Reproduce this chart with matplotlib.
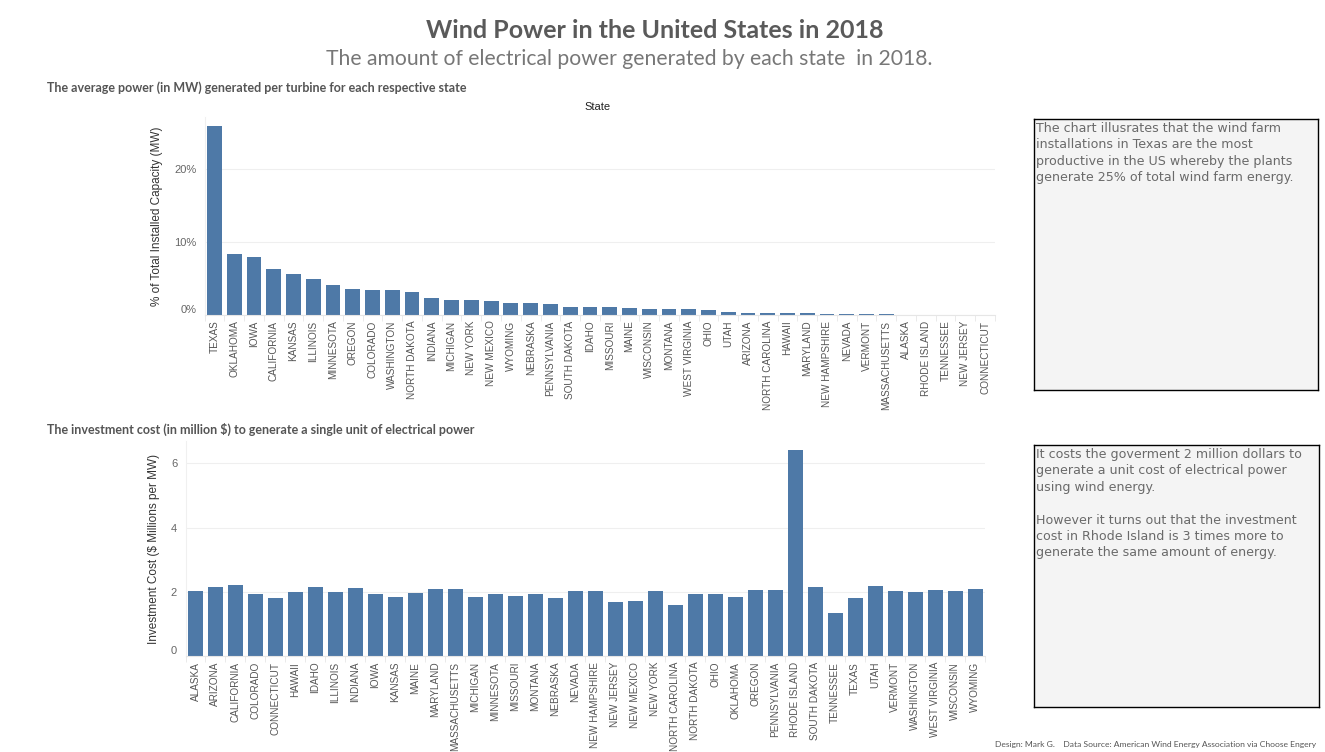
import matplotlib.pyplot as plt
from matplotlib import ticker

# share of total installed capacity (%), sorted as in the dashboard
cap_states = [
    "TEXAS", "OKLAHOMA", "IOWA", "CALIFORNIA", "KANSAS", "ILLINOIS", "MINNESOTA",
    "OREGON", "COLORADO", "WASHINGTON", "NORTH DAKOTA", "INDIANA", "MICHIGAN",
    "NEW YORK", "NEW MEXICO", "WYOMING", "NEBRASKA", "PENNSYLVANIA", "SOUTH DAKOTA",
    "IDAHO", "MISSOURI", "MAINE", "WISCONSIN", "MONTANA", "WEST VIRGINIA", "OHIO",
    "UTAH", "ARIZONA", "NORTH CAROLINA", "HAWAII", "MARYLAND", "NEW HAMPSHIRE",
    "NEVADA", "VERMONT", "MASSACHUSETTS", "ALASKA", "RHODE ISLAND", "TENNESSEE",
    "NEW JERSEY", "CONNECTICUT",
]
cap_share = [
    25.9, 8.3, 8.0, 6.3, 5.6, 4.9, 4.1, 3.5, 3.4, 3.4, 3.2, 2.3, 2.0, 2.0, 1.9,
    1.6, 1.6, 1.5, 1.05, 1.05, 1.05, 0.9, 0.78, 0.78, 0.78, 0.64, 0.37, 0.23,
    0.23, 0.23, 0.21, 0.09, 0.09, 0.08, 0.07, 0.06, 0.01, 0.01, 0.01, 0.0,
]

# investment cost ($ millions per MW), alphabetical
cost_states = [
    "ALASKA", "ARIZONA", "CALIFORNIA", "COLORADO", "CONNECTICUT", "HAWAII", "IDAHO",
    "ILLINOIS", "INDIANA", "IOWA", "KANSAS", "MAINE", "MARYLAND", "MASSACHUSETTS",
    "MICHIGAN", "MINNESOTA", "MISSOURI", "MONTANA", "NEBRASKA", "NEVADA",
    "NEW HAMPSHIRE", "NEW JERSEY", "NEW MEXICO", "NEW YORK", "NORTH CAROLINA",
    "NORTH DAKOTA", "OHIO", "OKLAHOMA", "OREGON", "PENNSYLVANIA", "RHODE ISLAND",
    "SOUTH DAKOTA", "TENNESSEE", "TEXAS", "UTAH", "VERMONT", "WASHINGTON",
    "WEST VIRGINIA", "WISCONSIN", "WYOMING",
]
cost_values = [
    2.03, 2.16, 2.22, 1.94, 1.81, 2.00, 2.16, 2.00, 2.12, 1.94, 1.84, 1.97, 2.09,
    2.09, 1.84, 1.94, 1.88, 1.94, 1.81, 2.03, 2.03, 1.69, 1.72, 2.03, 1.60, 1.94,
    1.94, 1.84, 2.06, 2.06, 6.41, 2.16, 1.35, 1.81, 2.19, 2.03, 2.00, 2.06, 2.03,
    2.09,
]

W, H = 1325, 752
BLUE = "#4e79a7"
LABEL_FONT = ["Liberation Sans", "DejaVu Sans"]
HEAD_FONT = ["Lato", "DejaVu Sans"]


def px_axes(fig, left, right, top, bottom):
    return fig.add_axes([left / W, 1 - bottom / H, (right - left) / W, (bottom - top) / H])


def style_bar_axes(ax, labels, ylabel):
    x = range(len(labels))
    ax.set_xlim(-0.5, len(labels) - 0.5)
    ax.set_xticks(list(x))
    ax.set_xticklabels(labels, rotation=90, fontsize=7.2, color="#555555",
                       family=LABEL_FONT, va="top")
    ax.tick_params(axis="x", length=0, pad=4)
    ax.set_xticks([i - 0.5 for i in range(len(labels) + 1)], minor=True)
    ax.tick_params(axis="x", which="minor", length=4, color="#e6e6e6")
    ax.tick_params(axis="y", length=0, pad=6, labelsize=8, labelcolor="#666666")
    for lbl in ax.get_yticklabels():
        lbl.set_family(LABEL_FONT)
    ax.get_yticklabels()[0].set_va("bottom")
    ax.grid(True, axis="y", color="#efefef", linewidth=0.8)
    ax.set_axisbelow(True)
    for side in ("top", "right"):
        ax.spines[side].set_visible(False)
    ax.spines["left"].set_color("#f0f0f0")
    ax.spines["bottom"].set_color("#e6e6e6")
    ax.set_ylabel(ylabel, fontsize=8.5, color="#333333", family=LABEL_FONT, labelpad=8)


fig = plt.figure(figsize=(W / 100, H / 100), dpi=100)
fig.patch.set_facecolor("white")

fig.text(655 / W, 1 - 30 / H, "Wind Power in the United States in 2018",
         ha="center", va="center", fontsize=18, fontweight="bold",
         color="#5a5a5a", family=HEAD_FONT)
fig.text(629 / W, 1 - 59 / H,
         "The amount of electrical power generated by each state  in 2018.",
         ha="center", va="center", fontsize=15.2, color="#777777", family=HEAD_FONT)

fig.text(47 / W, 1 - 88 / H,
         "The average power (in MW) generated per turbine for each respective state",
         ha="left", va="center", fontsize=9, fontweight="bold", color="#555555",
         family=HEAD_FONT)
fig.text(47 / W, 1 - 429 / H,
         "The investment cost (in million $) to generate a single unit of electrical power",
         ha="left", va="center", fontsize=9, fontweight="bold", color="#555555",
         family=HEAD_FONT)

# top chart
ax1 = px_axes(fig, 204.6, 995, 117, 315)
ax1.bar(range(len(cap_states)), cap_share, width=0.75, color=BLUE)
ax1.set_ylim(0, 27.1)
ax1.set_yticks([0, 10, 20])
ax1.yaxis.set_major_formatter(ticker.FuncFormatter(lambda v, p: f"{v:.0f}%"))
style_bar_axes(ax1, cap_states, "% of Total Installed Capacity (MW)")
fig.text(598 / W, 1 - 107 / H, "State", ha="center", va="center", fontsize=8,
         color="#222222", family=LABEL_FONT)

# bottom chart
ax2 = px_axes(fig, 185.5, 985, 440.7, 656.3)
ax2.bar(range(len(cost_states)), cost_values, width=0.75, color=BLUE)
ax2.set_ylim(0, 6.7)
ax2.set_yticks([0, 2, 4, 6])
style_bar_axes(ax2, cost_states, "Investment Cost ($ Millions per MW)")

# annotation boxes
notes = [
    (1034, 1318, 119, 390,
     "The chart illusrates that the wind farm\ninstallations in Texas are the most\n"
     "productive in the US whereby the plants\ngenerate 25% of total wind farm energy."),
    (1034, 1319, 445, 707,
     "It costs the goverment 2 million dollars to\ngenerate a unit cost of electrical power\n"
     "using wind energy.\n\nHowever it turns out that the investment\n"
     "cost in Rhode Island is 3 times more to\ngenerate the same amount of energy."),
]
for left, right, top, bottom, text in notes:
    box = px_axes(fig, left, right, top, bottom)
    box.set_facecolor("#f4f4f4")
    box.set_xticks([])
    box.set_yticks([])
    for sp in box.spines.values():
        sp.set_color("black")
        sp.set_linewidth(1)
    box.text(2 / (right - left), 1 - 3 / (bottom - top), text, transform=box.transAxes,
             ha="left", va="top", fontsize=9.1, color="#6a6a6a",
             family=["DejaVu Sans"], linespacing=1.34)

fig.text(1316 / W, 1 - 745 / H,
         "Design: Mark G.    Data Source: American Wind Energy Association via Choose Engery",
         ha="right", va="center", fontsize=6.1, color="#555555", family=HEAD_FONT)

fig.savefig("out.png", dpi=100)
